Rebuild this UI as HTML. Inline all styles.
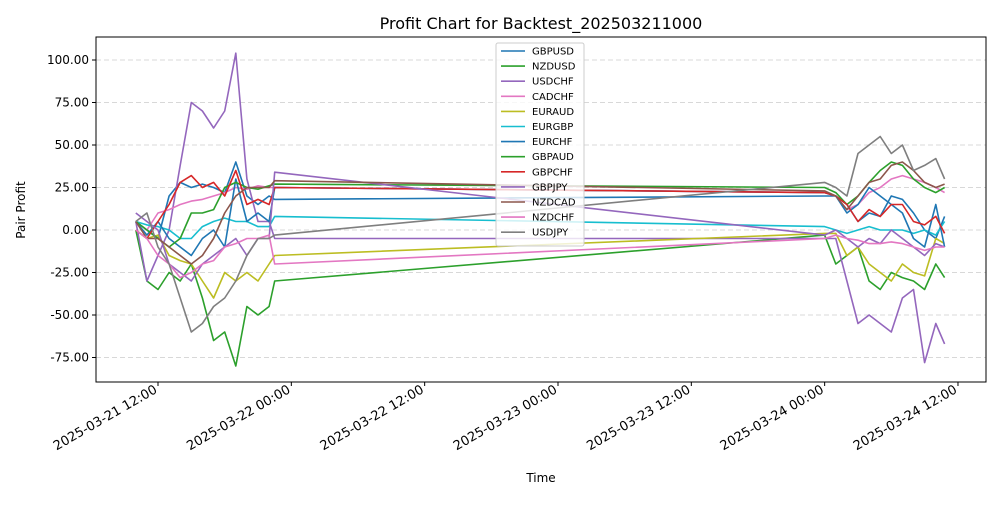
<!DOCTYPE html>
<html><head><meta charset="utf-8"><style>
body{margin:0;background:#fff;font-family:"Liberation Sans","DejaVu Sans",sans-serif;}
svg text{font-family:"DejaVu Sans","Liberation Sans",sans-serif;}
</style></head><body>
<svg id="chart" width="1000" height="500" xmlns="http://www.w3.org/2000/svg">
<rect width="1000" height="500" fill="#fff"/>
<text x="541" y="29" font-size="16" text-anchor="middle">Profit Chart for Backtest_202503211000</text>
<g id="grid"></g><g id="series"></g>
<rect x="96" y="37" width="890" height="345" fill="none" stroke="#000" stroke-width="1"/>
<g id="axes"></g>
<text x="541" y="482" font-size="12" text-anchor="middle">Time</text>
<text transform="translate(25,210) rotate(-90)" font-size="12" text-anchor="middle">Pair Profit</text>
<g id="legend"></g>
</svg>
<script>
const seg1Hours=[-2,-1,0,1,2,3,4,5,6,7,8,9,10,10.5];
const seg2Hours=[60,61,62,63,64,65,66,67,68,69,70,70.8];
const pairNames=["GBPUSD","NZDUSD","USDCHF","CADCHF","EURAUD","EURGBP","EURCHF","GBPAUD","GBPCHF","GBPJPY","NZDCAD","NZDCHF","USDJPY"];
const pairColors=["#1f77b4","#2ca02c","#9467bd","#e377c2","#bcbd22","#17becf","#1f77b4","#2ca02c","#d62728","#9467bd","#8c564b","#e377c2","#7f7f7f"];
const gbpusd=[5,0,-5,20,28,25,27,25,22,40,20,15,20,18, 20,20,15,5,10,8,20,18,10,0,-5,8];
const nzdusd=[0,-30,-35,-25,-30,-20,-40,-65,-60,-80,-45,-50,-45,-30, -3,-20,-15,-10,-30,-35,-25,-28,-30,-35,-20,-28];
const usdchf=[5,-30,-15,0,38,75,70,60,70,104,30,5,5,-5, -5,-5,-30,-55,-50,-55,-60,-40,-35,-78,-55,-67];
const cadchf=[5,0,10,12,15,17,18,20,22,25,24,26,25,25, 22,20,12,15,22,25,30,32,30,28,25,22];
const euraud=[0,-5,-3,-15,-18,-20,-30,-40,-25,-30,-25,-30,-20,-15, -2,-2,-15,-10,-20,-25,-30,-20,-25,-27,-5,-8];
const eurgbp=[5,3,2,0,-5,-5,2,5,7,5,5,2,2,8, 2,0,-2,0,2,0,0,0,-2,0,-3,5];
const eurchf=[5,-3,5,-5,-10,-15,-5,0,-10,30,5,10,5,25, 22,20,10,15,25,20,15,10,-5,-10,15,-10];
const gbpaud=[5,0,-5,-10,-5,10,10,12,25,28,25,24,26,27, 25,22,15,20,28,35,40,38,30,25,22,25];
const gbpchf=[0,-5,5,15,28,32,25,28,20,35,15,18,15,25, 22,20,15,5,12,8,15,15,5,3,8,-2];
const gbpjpy=[10,5,0,-20,-25,-30,-20,-15,-10,-5,-15,-5,-5,34, -3,0,-5,-10,-5,-8,0,-5,-10,-15,-8,-10];
const nzdcad=[5,-5,-5,-10,-15,-20,-15,-5,10,20,25,25,25,29, 23,20,12,20,28,30,38,40,35,28,25,27];
const nzdchf=[0,-5,-15,-20,-28,-25,-20,-18,-10,-8,-5,-5,-3,-20, -5,-3,-5,-6,-8,-8,-7,-8,-10,-12,-10,-10];
const usdjpy=[5,10,-10,-20,-40,-60,-55,-45,-40,-30,-15,-5,-5,-3, 28,25,20,45,50,55,45,50,35,38,42,30];
const seriesValues=[gbpusd,nzdusd,usdchf,cadchf,euraud,eurgbp,eurchf,gbpaud,gbpchf,gbpjpy,nzdcad,nzdchf,usdjpy];
const yTicks=[-75,-50,-25,0,25,50,75,100];
const xTickHours=[0,12,24,36,48,60,72];
const xTickLabels=["2025-03-21 12:00","2025-03-22 00:00","2025-03-22 12:00","2025-03-23 00:00","2025-03-23 12:00","2025-03-24 00:00","2025-03-24 12:00"];

const NS="http://www.w3.org/2000/svg";
const xs=h=>158+h*(133.33/12);
const ys=v=>230-v*1.7;
const grid=document.getElementById('grid'),axes=document.getElementById('axes'),ser=document.getElementById('series'),leg=document.getElementById('legend');
function mk(tag,attrs,parent){const e=document.createElementNS(NS,tag);for(const k in attrs)e.setAttribute(k,attrs[k]);parent.appendChild(e);return e;}
yTicks.forEach(v=>{
  const y=ys(v);
  const g=mk('line',{x1:96,x2:986,y1:y,y2:y,stroke:'#ccc','stroke-dasharray':'5,3','stroke-width':0.8},grid);
  
  
  mk('line',{x1:92,x2:96,y1:y,y2:y,stroke:'#000'},axes);
  const t=mk('text',{x:89,y:y+4,'font-size':12,'text-anchor':'end'},axes);
  
  
  t.textContent=v.toFixed(2);
});
xTickHours.forEach((h,i)=>{
  const x=xs(h);
  mk('line',{x1:x,x2:x,y1:382,y2:386,stroke:'#000'},axes);
  const t=mk('text',{x:0,y:0,'font-size':13,'text-anchor':'end',transform:`translate(${x},${392}) rotate(-30)`},axes);
  
  
  t.textContent=xTickLabels[i];
});
const allHours=seg1Hours.concat(seg2Hours);
seriesValues.forEach((vals,i)=>{
  const d=vals.map((v,j)=>(j?'L':'M')+xs(allHours[j]).toFixed(1)+','+ys(v).toFixed(1)).join(' ');
  const p=mk('path',{d:d,fill:'none',stroke:pairColors[i],'stroke-width':1.6,'stroke-linejoin':'round'},ser);
  
  
});
const lb=mk('rect',{x:496,y:43,width:88,height:203,fill:'#fff','fill-opacity':0.8,stroke:'#ccc',rx:2},leg);


pairNames.forEach((n,i)=>{
  const y=51+i*15.1;
  const g=mk('g',{},leg);
  
  
  mk('line',{x1:501,x2:525,y1:y,y2:y,stroke:pairColors[i],'stroke-width':1.6},g);
  const t=mk('text',{x:532,y:y+3.5,'font-size':10},g);
  t.textContent=n;
});
</script>
</body></html>
